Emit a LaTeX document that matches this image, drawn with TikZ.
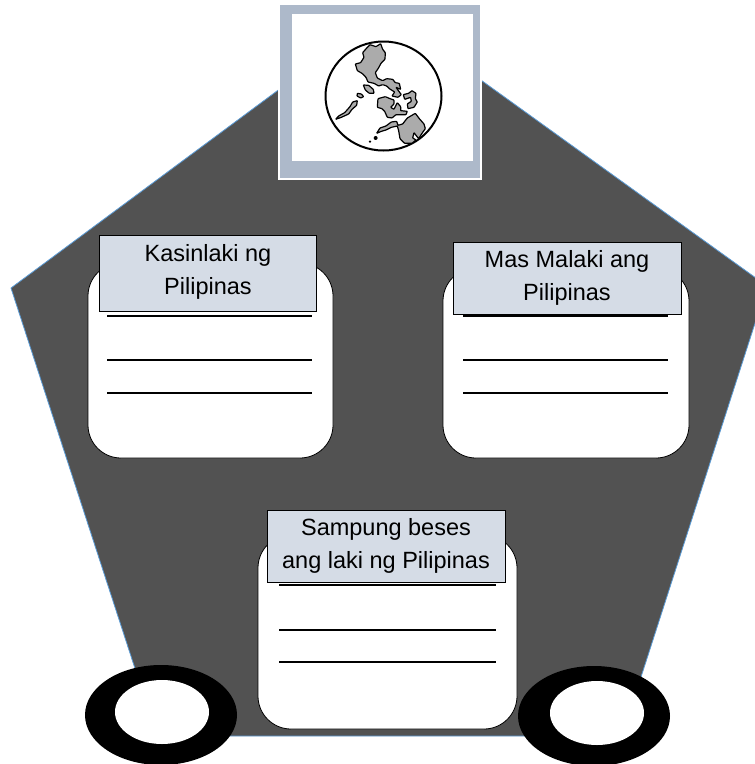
\documentclass[tikz,border=0pt]{standalone}
\usepackage{fontspec}
\setmainfont{Liberation Sans}
\definecolor{bodygray}{HTML}{525252}
\definecolor{edgeblue}{HTML}{5B9BD5}
\definecolor{framecol}{HTML}{ADB9CA}
\definecolor{titlecol}{HTML}{D5DCE6}
\definecolor{landgray}{HTML}{ABABAB}
\tikzset{
  cardbox/.style={draw=black, fill=white, line width=0.8pt, rounded corners=33pt},
  titlebox/.style={draw=black, fill=titlecol, line width=0.8pt},
  titletext/.style={align=center, inner sep=0pt, font=\fontsize{23.5}{33}\selectfont},
  ruling/.style={line width=1.6pt},
  wheelring/.style={fill=black},
  land/.style={draw=black, fill=landgray, line width=1.2pt, rounded corners=0.6pt}
}
\begin{document}
\begin{tikzpicture}[x=1pt, y=-1pt]
  \useasboundingbox (0,0) rectangle (755,764);
  \clip (0,0) rectangle (755,764);
  % body
  \fill[bodygray, draw=edgeblue, line width=0.8pt] (385,11) -- (767,286) -- (622,736) -- (157,736) -- (11,288) -- cycle;
  % wheels
  \fill[wheelring] (161,715) ellipse (76 and 50);
  \fill[white] (162,712) ellipse (47 and 32);
  \fill[wheelring] (594,716) ellipse (76 and 50);
  \fill[white] (597,713) ellipse (47 and 32);
  % globe frame
  \fill[white] (278,4) rectangle (482,180);
  \fill[framecol] (280,5) rectangle (480,178);
  \fill[white] (292,14) rectangle (473,161);
  \draw[line width=2pt] (383.5,96) ellipse (58 and 54.5);
  \begin{scope}[shift={(270,0)}, x=0.3333pt, y=-0.3333pt]
    \draw[land] (292,142) -- (300,134) -- (318,140) -- (332,131) -- (338,148) -- (346,158) -- (345,178) -- (333,190) -- (325,205) -- (316,218) -- (322,234) -- (338,242) -- (350,236) -- (368,238) -- (376,248) -- (388,250) -- (392,268) -- (378,262) -- (394,284) -- (384,292) -- (366,288) -- (374,276) -- (358,266) -- (350,258) -- (338,254) -- (326,258) -- (312,250) -- (294,246) -- (288,232) -- (276,220) -- (262,212) -- (256,192) -- (272,188) -- (282,172) -- (278,158) -- cycle;
    \draw[land] (280,255) -- (296,256) -- (310,268) -- (312,280) -- (298,280) -- (286,270) -- cycle;
    \draw[land] (262,280) -- (274,282) -- (281,290) -- (272,294) -- (261,288) -- cycle;
    \draw[land] (197,358) -- (206,348) -- (224,338) -- (240,320) -- (248,306) -- (262,302) -- (260,316) -- (246,328) -- (236,342) -- (214,352) -- cycle;
    \draw[land] (324,296) -- (346,290) -- (360,296) -- (372,300) -- (372,312) -- (362,322) -- (372,328) -- (382,308) -- (392,320) -- (392,332) -- (412,334) -- (408,344) -- (378,344) -- (366,354) -- (352,352) -- (344,334) -- (336,326) -- (322,322) -- cycle;
    \draw[land] (400,284) -- (416,280) -- (426,272) -- (438,280) -- (436,296) -- (442,306) -- (432,322) -- (414,326) -- (412,312) -- (424,304) -- (422,292) -- (404,298) -- cycle;
    \draw[land] (320,400) -- (330,384) -- (348,378) -- (364,366) -- (380,364) -- (384,376) -- (398,372) -- (412,354) -- (436,340) -- (448,356) -- (462,372) -- (466,386) -- (456,400) -- (446,416) -- (432,398) -- (428,414) -- (438,420) -- (426,430) -- (404,430) -- (390,416) -- (386,392) -- (382,378) -- (364,382) -- (348,390) -- (334,394) -- cycle;
    \fill (317,414) circle (6);
    \fill (300,425) circle (4);
  \end{scope}
  % cards
  \draw[cardbox] (88,263) rectangle (333,458);
  \draw[cardbox] (443,268) rectangle (689,458);
  \draw[cardbox] (258,535) rectangle (517,729);
  % rulings
  \foreach \y in {316,360,393} {
    \draw[ruling] (107,\y) -- (312,\y);
    \draw[ruling] (463,\y) -- (668,\y);
  }
  \foreach \y in {585,630,662} {
    \draw[ruling] (279,\y) -- (496,\y);
  }
  % titles
  \draw[titlebox] (99,235) rectangle (316,311);
  \draw[titlebox] (453,242) rectangle (681,314);
  \draw[titlebox] (267,510) rectangle (505,582);
  \node[titletext] (sizesame) at (208,272) {Kasinlaki ng\\Pilipinas};
  \node[titletext] (sizelarger) at (567,278) {Mas Malaki ang\\Pilipinas};
  \node[titletext] (sizeten) at (386,546) {Sampung beses\\ang laki ng Pilipinas};
\end{tikzpicture}
\end{document}
